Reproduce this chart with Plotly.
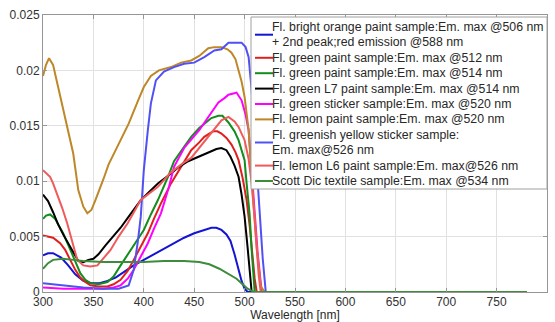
import plotly.graph_objects as go

# ---- data ----
names = [
    "Fl. bright orange paint sample:Em. max @506 nm<br>+ 2nd peak;red emission @588 nm",
    "Fl. green paint sample:Em. max @512 nm",
    "Fl. green paint sample:Em. max @514 nm",
    "Fl. green L7 paint sample:Em. max @514 nm",
    "Fl. green sticker sample:Em. max @520 nm",
    "Fl. lemon paint sample:Em. max @520 nm",
    "Fl. greenish yellow sticker sample:<br>Em. max@526 nm",
    "Fl. lemon L6 paint sample:Em. max@526 nm",
    "Scott Dic textile sample:Em. max @534 nm",
]

orange_wl = [300, 305, 310, 318, 325, 332, 340, 348, 356, 364, 372, 380, 390, 400, 410, 420, 430, 440, 450, 460, 467, 472, 477, 482, 486, 490, 494, 497, 500, 503, 780]
orange_v = [0.0033, 0.0035, 0.0035, 0.0031, 0.0024, 0.0016, 0.0010, 0.0008, 0.0008, 0.0010, 0.0013, 0.0018, 0.0024, 0.0029, 0.0034, 0.0039, 0.0044, 0.0049, 0.0053, 0.0056, 0.0058, 0.0058, 0.0056, 0.0052, 0.0046, 0.0034, 0.0020, 0.0010, 0.0003, 0.0, 0.0]

green512_wl = [300, 305, 310, 317, 322, 327, 332, 337, 342, 347, 355, 364, 370, 377, 384, 390, 397, 404, 410, 417, 427, 437, 447, 455, 460, 465, 469, 473, 477, 482, 487, 491, 494, 498, 502, 505, 507, 510, 512, 780]
green512_v = [0.0051, 0.0050, 0.0049, 0.0044, 0.0038, 0.0029, 0.0020, 0.0013, 0.0009, 0.0006, 0.0005, 0.0005, 0.0007, 0.0011, 0.0019, 0.0029, 0.0041, 0.0053, 0.0066, 0.0080, 0.0098, 0.0113, 0.0128, 0.0135, 0.0140, 0.0143, 0.0145, 0.0145, 0.0143, 0.0139, 0.0133, 0.0126, 0.0119, 0.0103, 0.0083, 0.0060, 0.0038, 0.0012, 0.0, 0.0]

green514_wl = [300, 303, 307, 312, 320, 325, 330, 337, 342, 347, 355, 364, 370, 377, 387, 400, 407, 414, 424, 430, 440, 447, 455, 460, 467, 474, 478, 484, 490, 494, 497, 500, 502, 505, 507, 510, 780]
green514_v = [0.0066, 0.0069, 0.0070, 0.0066, 0.0053, 0.0043, 0.0032, 0.0017, 0.0011, 0.0008, 0.0007, 0.0009, 0.0014, 0.0024, 0.0038, 0.0056, 0.0070, 0.0083, 0.0104, 0.0118, 0.0131, 0.0140, 0.0148, 0.0152, 0.0157, 0.0159, 0.0159, 0.0153, 0.0145, 0.0137, 0.0128, 0.0119, 0.0098, 0.0070, 0.0038, 0.0, 0.0]

l7_wl = [300, 305, 310, 315, 320, 325, 330, 335, 340, 345, 350, 355, 362, 370, 377, 385, 397, 405, 414, 427, 435, 444, 455, 467, 472, 477, 482, 486, 490, 494, 497, 500, 503, 505, 507, 780]
l7_v = [0.0088, 0.0082, 0.0072, 0.0061, 0.0052, 0.0044, 0.0035, 0.0028, 0.0027, 0.0029, 0.0030, 0.0034, 0.0042, 0.0050, 0.0058, 0.0068, 0.0083, 0.0090, 0.0098, 0.0107, 0.0113, 0.0118, 0.0122, 0.0127, 0.0129, 0.0130, 0.0128, 0.0122, 0.0114, 0.0104, 0.0088, 0.0068, 0.0040, 0.0022, 0.0, 0.0]

sticker_wl = [300, 320, 340, 360, 370, 377, 384, 390, 397, 404, 410, 417, 425, 430, 440, 447, 455, 464, 470, 474, 480, 484, 488, 492, 497, 501, 504, 507, 510, 513, 517, 780]
sticker_v = [0.0004, 0.0003, 0.0003, 0.0003, 0.0004, 0.0006, 0.0012, 0.0020, 0.0032, 0.0044, 0.0057, 0.0071, 0.0095, 0.0113, 0.0130, 0.0137, 0.0146, 0.0158, 0.0166, 0.0171, 0.0175, 0.0178, 0.0179, 0.0180, 0.0173, 0.0160, 0.0146, 0.0110, 0.0074, 0.0035, 0.0, 0.0]

lemon_wl = [300, 303, 306, 310, 315, 320, 325, 330, 335, 340, 344, 348, 352, 356, 360, 365, 370, 377, 385, 394, 400, 407, 415, 427, 437, 447, 455, 464, 470, 477, 483, 487, 491, 494, 497, 500, 504, 508, 512, 516, 520, 780]
lemon_v = [0.0195, 0.0205, 0.0211, 0.0205, 0.0185, 0.0165, 0.0148, 0.0125, 0.0092, 0.0077, 0.0071, 0.0074, 0.0083, 0.0092, 0.0102, 0.0115, 0.0124, 0.0137, 0.0152, 0.0172, 0.0185, 0.0195, 0.0200, 0.0203, 0.0207, 0.0209, 0.0213, 0.0220, 0.0221, 0.0221, 0.0219, 0.0216, 0.0210, 0.0200, 0.0190, 0.0176, 0.0146, 0.0090, 0.0040, 0.0005, 0.0, 0.0]

gy_wl = [300, 320, 340, 360, 375, 385, 390, 394, 397, 400, 402, 404, 407, 412, 420, 430, 440, 450, 460, 470, 477, 484, 490, 497, 501, 504, 507, 510, 514, 518, 521, 780]
gy_v = [0.0008, 0.0006, 0.0004, 0.0003, 0.0003, 0.0006, 0.0020, 0.0045, 0.0068, 0.0110, 0.0130, 0.0146, 0.0170, 0.0191, 0.0199, 0.0203, 0.0206, 0.0207, 0.0212, 0.0218, 0.0219, 0.0225, 0.0225, 0.0225, 0.0221, 0.0212, 0.0182, 0.0140, 0.0080, 0.0030, 0.0, 0.0]

l6_wl = [300, 304, 307, 310, 314, 319, 324, 329, 334, 340, 347, 354, 360, 367, 375, 384, 397, 405, 414, 427, 434, 440, 447, 455, 464, 470, 477, 484, 490, 494, 500, 504, 507, 510, 512, 514, 516, 780]
l6_v = [0.0110, 0.0107, 0.0104, 0.0098, 0.0089, 0.0076, 0.0062, 0.0045, 0.0029, 0.0024, 0.0023, 0.0024, 0.0030, 0.0038, 0.0050, 0.0062, 0.0083, 0.0089, 0.0095, 0.0108, 0.0113, 0.0117, 0.0121, 0.0130, 0.0140, 0.0147, 0.0155, 0.0158, 0.0154, 0.0149, 0.0137, 0.0120, 0.0098, 0.0065, 0.0038, 0.0015, 0.0, 0.0]

scott_wl = [300, 305, 310, 320, 330, 340, 360, 380, 400, 420, 440, 455, 465, 475, 485, 492, 498, 503, 507, 510, 780]
scott_v = [0.0021, 0.0026, 0.0029, 0.0030, 0.0029, 0.0028, 0.0027, 0.0027, 0.0027, 0.0028, 0.0028, 0.0027, 0.0025, 0.0021, 0.0016, 0.0012, 0.0007, 0.0003, 0.0001, 0.0, 0.0]

x_ticks = [300, 350, 400, 450, 500, 550, 600, 650, 700, 750, 800]
y_ticks = [0, 0.005, 0.01, 0.015, 0.02, 0.025]
y_ticktext = ["0", "0.005", "0.01", "0.015", "0.02", "0.025"]

colors = ["rgb(20,20,210)", "rgb(225,30,30)", "rgb(20,140,30)", "rgb(0,0,0)",
          "rgb(255,0,255)", "rgb(190,135,40)", "rgb(80,80,245)",
          "rgb(240,90,90)", "rgb(60,140,60)"]

series = [
    (orange_wl, orange_v), (green512_wl, green512_v), (green514_wl, green514_v),
    (l7_wl, l7_v), (sticker_wl, sticker_v), (lemon_wl, lemon_v),
    (gy_wl, gy_v), (l6_wl, l6_v), (scott_wl, scott_v),
]

# ---- layout geometry (pixels) ----
W, H = 555, 322
ML, MR, MT, MB = 43, 8, 15, 30
PW, PH = W - ML - MR, H - MT - MB


def px_x(px):
    return (px - ML) / PW


def px_y(py):
    return (H - MB - py) / PH


FONT = "Liberation Sans, Arial, sans-serif"

fig = go.Figure()
for name, (wl, v), col in zip(names, series, colors):
    fig.add_trace(go.Scatter(x=wl, y=v, mode="lines", name=name.replace("<br>", " "),
                             line=dict(color=col, width=2), showlegend=False))

axis_common = dict(
    automargin=False,
    showgrid=True, gridcolor="rgb(225,225,225)", gridwidth=1,
    showline=True, linecolor="rgb(150,150,150)", linewidth=1, mirror="ticks",
    ticks="inside", ticklen=4, tickcolor="rgb(150,150,150)",
    zeroline=False,
    tickfont=dict(family=FONT, size=12, color="rgb(50,50,50)"),
)

fig.update_xaxes(range=[300, 800], tickvals=x_ticks, ticklabelstandoff=-1,
                 title=dict(text="Wavelength [nm]", standoff=0,
                            font=dict(family=FONT, size=12, color="rgb(40,40,40)")),
                 **axis_common)
fig.update_yaxes(range=[0, 0.025], tickvals=y_ticks, ticktext=y_ticktext,
                 **axis_common)

# ---- legend drawn as a box with key lines and text (one text per line) ----
LEG_L, LEG_T, LEG_B = 251, 17, 189
LINE_H = 15.4
FIRST_LINE = 27
LEG_FONT = 12.3
shapes = [dict(type="rect", xref="paper", yref="paper",
               x0=px_x(LEG_L), x1=1.0, y0=px_y(LEG_B), y1=px_y(LEG_T),
               fillcolor="white", line=dict(color="rgb(160,160,160)", width=1),
               layer="above")]
annotations = []
row = 0
for name, col in zip(names, colors):
    parts = name.split("<br>")
    yc = FIRST_LINE + LINE_H * (row + (len(parts) - 1) / 2.0)
    shapes.append(dict(type="line", xref="paper", yref="paper",
                       x0=px_x(255), x1=px_x(273), y0=px_y(yc), y1=px_y(yc),
                       line=dict(color=col, width=2), layer="above"))
    for part in parts:
        annotations.append(dict(xref="paper", yref="paper",
                                x=px_x(271), y=px_y(FIRST_LINE + LINE_H * row),
                                xanchor="left", yanchor="middle", align="left",
                                text=part, showarrow=False, borderpad=0,
                                font=dict(family=FONT, size=LEG_FONT,
                                          color="rgb(40,40,40)")))
        row += 1

fig.update_layout(
    width=W, height=H,
    margin=dict(l=ML, r=MR, t=MT, b=MB),
    plot_bgcolor="white", paper_bgcolor="white",
    showlegend=False,
    shapes=shapes,
    annotations=annotations,
)

fig.write_html("out.html")
